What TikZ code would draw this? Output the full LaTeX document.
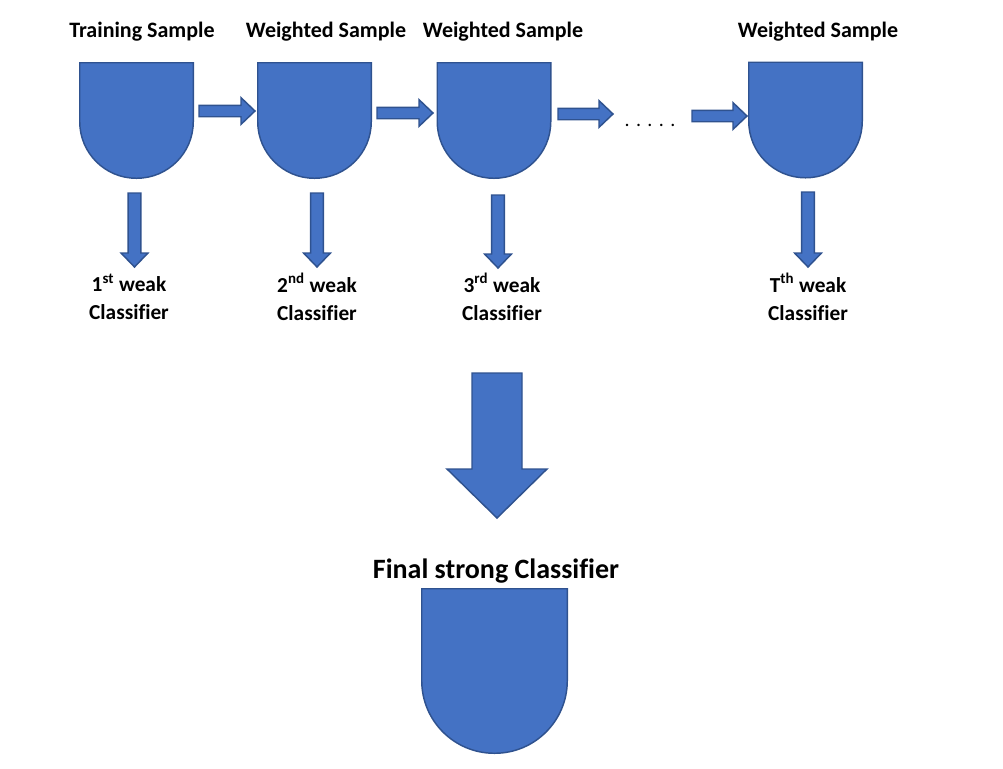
\documentclass[tikz,border=0pt]{standalone}
\usepackage{fontspec}
\setmainfont{Carlito}[Ligatures=CommonOff]
\usetikzlibrary{calc, positioning}
\definecolor{cupblue}{HTML}{4472C4}
\definecolor{cupedge}{HTML}{2F528F}

% block arrow: from, to, shaft half width, head half width, head length
\newcommand{\blockarrow}[5]{%
  \coordinate (ba-c) at ($(#2)!#5!(#1)$);
  \draw[blockfill] ($(#1)!#3!90:(#2)$) -- ($(ba-c)!#3!90:(#2)$) -- ($(ba-c)!#4!90:(#2)$)
    -- (#2) -- ($(ba-c)!#4!-90:(#2)$) -- ($(ba-c)!#3!-90:(#2)$) -- ($(#1)!#3!-90:(#2)$) -- cycle;}

\tikzset{
  cupbox/.style={inner sep=0pt, draw=none, minimum width=84.75pt, minimum height=86.25pt},
  cupfill/.style={fill=cupblue, draw=cupedge, line width=1.1pt},
  blockfill/.style={fill=cupblue, draw=cupedge, line width=1.1pt, line join=miter},
  toplabel/.style={font=\fontsize{16.5}{20}\selectfont\bfseries, anchor=base, inner sep=0pt},
  weaklabel/.style={font=\fontsize{16}{21}\selectfont\bfseries, align=center, inner sep=0pt}
}

\begin{document}
\begin{tikzpicture}[x=0.75pt, y=-0.75pt]
\useasboundingbox (0,0) rectangle (1003,768);

% sample cups
\node[cupbox] (s1) at (136.5,120.5) {};
\node[cupbox] (s2) at (314.5,120.5) {};
\node[cupbox] (s3) at (494,120.5) {};
\node[cupbox] (s4) at (805.5,120) {};
\node[cupbox, minimum width=108.75pt, minimum height=123pt] (fin) at (494.5,671) {};

\foreach \c/\r in {s1/42.4pt, s2/42.4pt, s3/42.4pt, s4/42.4pt, fin/54.4pt}
  \draw[cupfill] (\c.north east) -- (\c.north west) [rounded corners=\r] -- (\c.south west)
    -- (\c.south east) [sharp corners] -- cycle;

% titles
\node[toplabel] (t1) at (142,37) {Training Sample};
\node[toplabel] (t2) at (326,37) {Weighted Sample};
\node[toplabel] (t3) at (503,37) {Weighted Sample};
\node[toplabel] (t4) at (818,37) {Weighted Sample};

% weak classifiers
\node[weaklabel] (w1) at (129,297) {1\textsuperscript{st} weak\\Classifier};
\node[weaklabel] (w2) at (317,297) {2\textsuperscript{nd} weak\\Classifier};
\node[weaklabel] (w3) at (502,297) {3\textsuperscript{rd} weak\\Classifier};
\node[weaklabel] (w4) at (808,297) {T\textsuperscript{th} weak\\Classifier};

\node[font=\fontsize{21}{25}\selectfont\bfseries, inner sep=0pt, anchor=base] (final) at (496,578) {Final strong Classifier};

\node[font=\fontsize{15}{18}\selectfont, inner sep=0pt] (dots) at (650,125)
  {.\hspace{4.8pt}.\hspace{4.8pt}.\hspace{4.8pt}.\hspace{4.8pt}.};

% arrow ends
\coordinate (h1a) at (199,111);  \coordinate (h1b) at (255,111);
\coordinate (h2a) at (377,113);  \coordinate (h2b) at (433,113);
\coordinate (h3a) at (558,114);  \coordinate (h3b) at (613,114);
\coordinate (h4a) at (692,116);  \coordinate (h4b) at (747,116);
\coordinate (d1a) at (134.5,193); \coordinate (d1b) at (134.5,267);
\coordinate (d2a) at (317,193);   \coordinate (d2b) at (317,267);
\coordinate (d3a) at (498,195);   \coordinate (d3b) at (498,268);
\coordinate (d4a) at (808,192);   \coordinate (d4b) at (808,267);
\coordinate (bga) at (497,373);   \coordinate (bgb) at (497,518);

\foreach \n in {h1,h2,h3,h4}
  \blockarrow{\n a}{\n b}{4.3pt}{10pt}{10.5pt};
\foreach \n in {d1,d2,d3,d4}
  \blockarrow{\n a}{\n b}{4.8pt}{10.1pt}{10.5pt};
\blockarrow{bga}{bgb}{18.75pt}{37.5pt}{36.75pt};
\end{tikzpicture}
\end{document}
